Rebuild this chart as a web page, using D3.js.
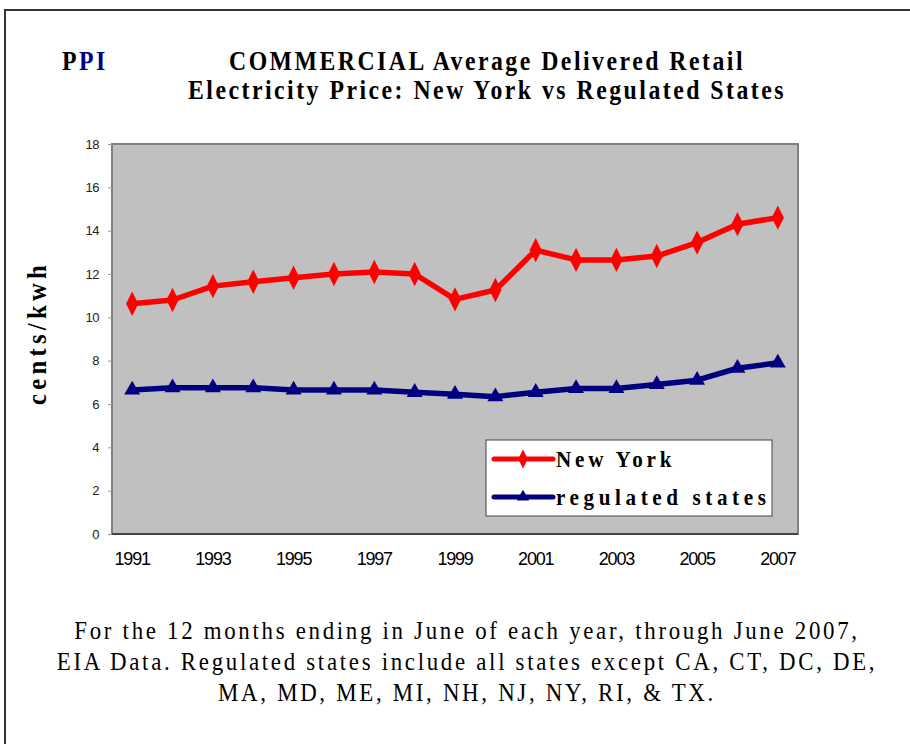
<!DOCTYPE html>
<html>
<head>
<meta charset="utf-8">
<script src="https://cdn.jsdelivr.net/npm/d3@7"></script>
<style>
  body { margin: 0; background: #fff; }
  svg { display: block; }
</style>
</head>
<body>
<div id="chart"></div>
<script>
// data
var years = ["1991","1992","1993","1994","1995","1996","1997","1998","1999","2000","2001","2002","2003","2004","2005","2006","2007"]
var newYork = [10.63, 10.8, 11.44, 11.64, 11.83, 12.0, 12.09, 12.0, 10.83, 11.26, 13.1, 12.65, 12.65, 12.83, 13.45, 14.3, 14.6]
var regulated = [6.65, 6.75, 6.75, 6.75, 6.65, 6.65, 6.65, 6.54, 6.45, 6.34, 6.54, 6.72, 6.72, 6.9, 7.1, 7.65, 7.9]
var yTicks = [0, 2, 4, 6, 8, 10, 12, 14, 16, 18]
var titleLines = ["COMMERCIAL Average Delivered Retail", "Electricity Price: New York vs Regulated States"]
var noteLines = [
    "For the 12 months ending in June of each year, through June 2007,",
    "EIA Data.  Regulated states include all states except CA, CT, DC, DE,",
    "MA, MD, ME, MI, NH, NJ, NY, RI, & TX."
]

var width = 910, height = 744
var plot = {left: 112, top: 144, right: 798, bottom: 534}
var squeeze = 0.88   // the serif text in the original is narrow and tall

var svg = d3.select("#chart").append("svg")
    .attr("width", width)
    .attr("height", height)

// outer frame
svg.append("rect")
    .attr("x", 5).attr("y", 10)
    .attr("width", 920).attr("height", 760)
    .attr("fill", "white")
    .attr("stroke", "#333")
    .attr("stroke-width", 2)

var serif = "'Liberation Serif', 'DejaVu Serif', serif"

// narrow serif text, spacing given in screen px
function narrowText(sel, px, py, size, spacing, bold, anchor, rotate) {
    return sel.append("text")
        .attr("transform", "translate(" + px + "," + py + ")" + (rotate ? " rotate(" + rotate + ")" : "") + " scale(" + squeeze + ",1)")
        .attr("text-anchor", anchor || "start")
        .style("font-family", serif)
        .style("font-weight", bold ? "bold" : "normal")
        .style("font-size", size + "px")
        .style("letter-spacing", (spacing / squeeze) + "px")
}

// PPI logo
var logo = narrowText(svg, 62, 70, 27, 2.5, true)
logo.append("tspan").attr("fill", "#000").text("P")
logo.append("tspan").attr("fill", "#000080").text("PI")

// title
titleLines.forEach(function (t, i) {
    narrowText(svg, 487, 70 + i * 29, 27, 2.5, true, "middle").text(t)
})

var x = d3.scaleBand()
    .domain(years)
    .range([plot.left, plot.right])

var y = d3.scaleLinear()
    .domain([0, 18])
    .range([plot.bottom, plot.top])

var cx = function (d, i) { return x(years[i]) + x.bandwidth() / 2 }

// plot area
svg.append("rect")
    .attr("x", plot.left).attr("y", plot.top)
    .attr("width", plot.right - plot.left)
    .attr("height", plot.bottom - plot.top)
    .attr("fill", "#c0c0c0")
    .attr("stroke", "#808080")
    .attr("stroke-width", 2)

// y axis
var yAxis = svg.append("g")
    .attr("transform", "translate(" + plot.left + ",0)")
    .call(d3.axisLeft(y).tickValues(yTicks).tickSize(4).tickPadding(9))
yAxis.select(".domain").remove()
yAxis.selectAll("line").attr("stroke", "#999")
yAxis.selectAll("text")
    .style("font-family", "'Liberation Sans', Arial, sans-serif")
    .style("font-size", "13px")
    .style("letter-spacing", "-0.5px")
    .attr("fill", "#222")

// x axis labels (every other year)
var xAxis = svg.append("g")
    .attr("transform", "translate(0," + plot.bottom + ")")
    .call(d3.axisBottom(x)
        .tickValues(years.filter(function (d, i) { return i % 2 === 0 }))
        .tickSize(0).tickPadding(18))
xAxis.select(".domain").attr("stroke", "#444").attr("stroke-width", 2)
    .attr("d", "M" + plot.left + ",0H" + plot.right)
xAxis.selectAll("text")
    .style("font-family", "'Liberation Sans', Arial, sans-serif")
    .style("font-size", "18px")
    .style("letter-spacing", "-1.2px")
    .attr("fill", "#000")

// y axis title
narrowText(svg, 46, 333, 28, 4.3, true, "middle", -90).text("cents/kwh")

var line = d3.line()
    .x(cx)
    .y(function (d) { return y(d) })

var series = [
    {name: "New York", values: newYork, color: "#ff0000", symbol: d3.symbolDiamond, size: 130, spacing: 3.8},
    {name: "regulated states", values: regulated, color: "#000080", symbol: d3.symbolTriangle, size: 110, spacing: 4.6}
]

var markTransform = function (s, px, py) {
    return "translate(" + px + "," + py + ")" + (s.symbol === d3.symbolDiamond ? " scale(1,1.15)" : "")
}

series.forEach(function (s) {
    svg.append("path")
        .datum(s.values)
        .attr("d", line)
        .attr("fill", "none")
        .attr("stroke", s.color)
        .attr("stroke-width", 5.5)
        .attr("stroke-linejoin", "round")

    svg.selectAll(null)
        .data(s.values)
        .enter().append("path")
        .attr("d", d3.symbol().type(s.symbol).size(s.size))
        .attr("transform", function (d, i) { return markTransform(s, cx(d, i), y(d)) })
        .attr("fill", s.color)
})

// legend
var legend = svg.append("g").attr("transform", "translate(486,440)")
legend.append("rect")
    .attr("width", 286).attr("height", 76)
    .attr("fill", "white")
    .attr("stroke", "#444")
    .attr("stroke-width", 1)

series.forEach(function (s, i) {
    var ly = 19 + i * 38
    legend.append("line")
        .attr("x1", 8).attr("x2", 67)
        .attr("y1", ly).attr("y2", ly)
        .attr("stroke", s.color)
        .attr("stroke-width", 5)
        .attr("stroke-linecap", "round")
    legend.append("path")
        .attr("d", d3.symbol().type(s.symbol).size(s.size * 0.6))
        .attr("transform", markTransform(s, 37, ly))
        .attr("fill", s.color)
    narrowText(legend, 70, ly + 8, 24, s.spacing, true).text(s.name)
})

// footnote
noteLines.forEach(function (t, i) {
    narrowText(svg, 467, 639 + i * 31, 26, 2.7, false, "middle").text(t)
})
</script>
</body>
</html>
